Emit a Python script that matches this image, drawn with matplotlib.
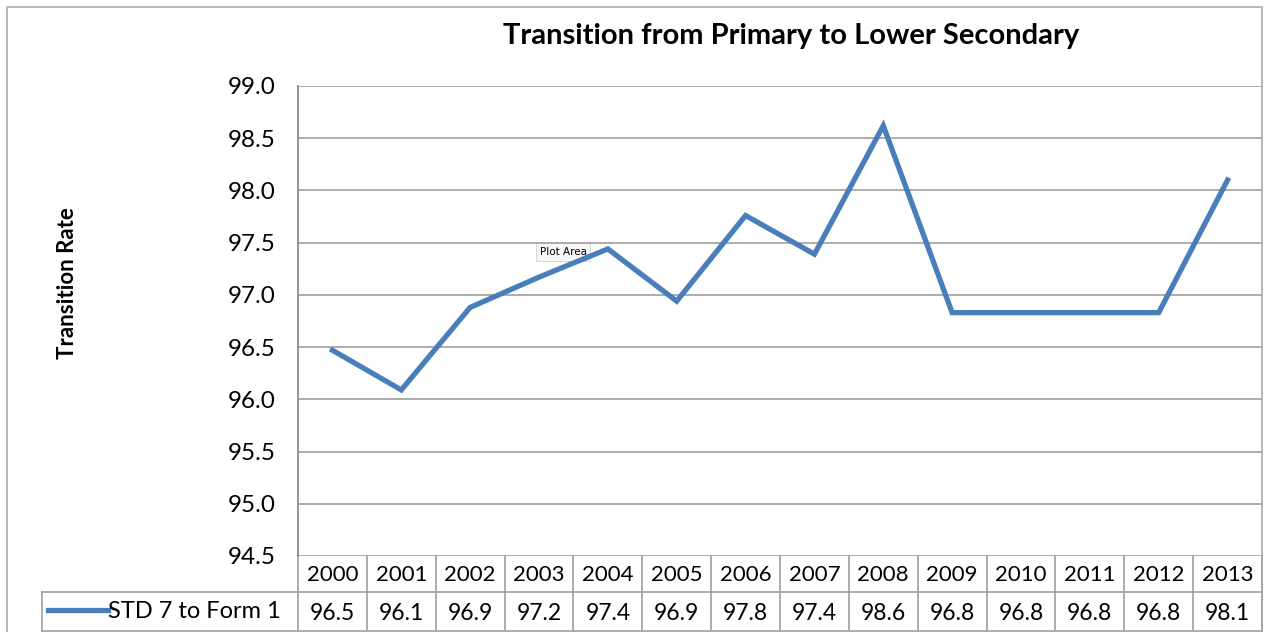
import matplotlib.pyplot as plt
from matplotlib.patches import Rectangle

# data (table shows the rounded values)
years = [2000, 2001, 2002, 2003, 2004, 2005, 2006, 2007, 2008, 2009, 2010, 2011, 2012, 2013]
rate = [96.47, 96.09, 96.88, 97.17, 97.44, 96.94, 97.76, 97.39, 98.62, 96.83, 96.83, 96.83, 96.83, 98.10]
series_name = "STD 7 to Form 1"
title = "Transition from Primary to Lower Secondary"
ylabel = "Transition Rate"
yticks = [94.5, 95.0, 95.5, 96.0, 96.5, 97.0, 97.5, 98.0, 98.5, 99.0]

W, H = 1264, 632
blue = "#4a7ebb"
grid_c = "#a6a6a6"
plt.rcParams['font.family'] = ['Lato', 'DejaVu Sans']

fig = plt.figure(figsize=(W / 100, H / 100), dpi=100)

# overlay in pixel coordinates for the frame and the data table
bg = fig.add_axes([0, 0, 1, 1], zorder=0)
bg.set_xlim(0, W)
bg.set_ylim(H, 0)
bg.axis("off")

left, right, top, bottom = 298, 1262, 86, 556
ax = fig.add_axes([left / W, 1 - bottom / H, (right - left) / W, (bottom - top) / H], zorder=1)
ax.patch.set_alpha(0)

x = list(range(len(years)))
ax.plot(x, rate, color=blue, lw=3.8, solid_joinstyle="miter")
ax.set_xlim(-0.5, len(years) - 0.5)
ax.set_ylim(94.5, 99.0)
ax.set_yticks(yticks)
ax.set_yticklabels([f"{v:.1f}" for v in yticks], fontsize=17.5)
ax.tick_params(axis="y", length=0, pad=16)
ax.set_xticks([])
for v in yticks:
    ax.axhline(v, color=grid_c, lw=1.3, zorder=0)
for s in ["top", "right", "bottom"]:
    ax.spines[s].set_visible(False)
ax.spines["left"].set_color("#8c8c8c")
ax.spines["left"].set_linewidth(1.3)

# outer chart border
bg.add_patch(Rectangle((7, 7), 1255, 640, fill=False, ec="#b0b0b0", lw=1.3))

fig.text(791 / W, 1 - 36 / H, title, fontsize=21, fontweight="bold", ha="center", va="center")
fig.text(68 / W, 1 - 283 / H, ylabel, fontsize=16, fontweight="bold", rotation=90,
         ha="center", va="center")

# data table under the plot
colw = (right - left) / len(years)
row1, row2, row3 = bottom, 592, 632
bg.plot([left, right], [row2, row2], color=grid_c, lw=1.3)
bg.plot([42, right], [row3 - 1, row3 - 1], color=grid_c, lw=1.3)
bg.plot([42, left], [row2, row2], color=grid_c, lw=1.3)
bg.plot([42, 42], [row2, row3], color=grid_c, lw=1.3)
for i in range(len(years) + 1):
    xx = left + i * colw
    bg.plot([xx, xx], [row1, row3], color=grid_c, lw=1.3)
for i, (yr, v) in enumerate(zip(years, rate)):
    cx = left + (i + 0.5) * colw
    bg.text(cx, (row1 + row2) / 2 + 1, str(yr), fontsize=16, ha="center", va="center")
    bg.text(cx, (row2 + row3) / 2 + 1, f"{v:.1f}", fontsize=16.5, ha="center", va="center")
bg.plot([48, 108], [610, 610], color=blue, lw=3.8)
bg.text(108, 611, series_name, fontsize=17, ha="left", va="center")

# the "Plot Area" hover tip seen in the screenshot
bg.text(563, 252, "Plot Area", fontsize=7.5, ha="center", va="center", family="DejaVu Sans",
        bbox=dict(boxstyle="square,pad=0.35", fc="#f7f7f7", ec="#d0d0d0", lw=0.6), zorder=5)

fig.savefig("out.png", dpi=100)
